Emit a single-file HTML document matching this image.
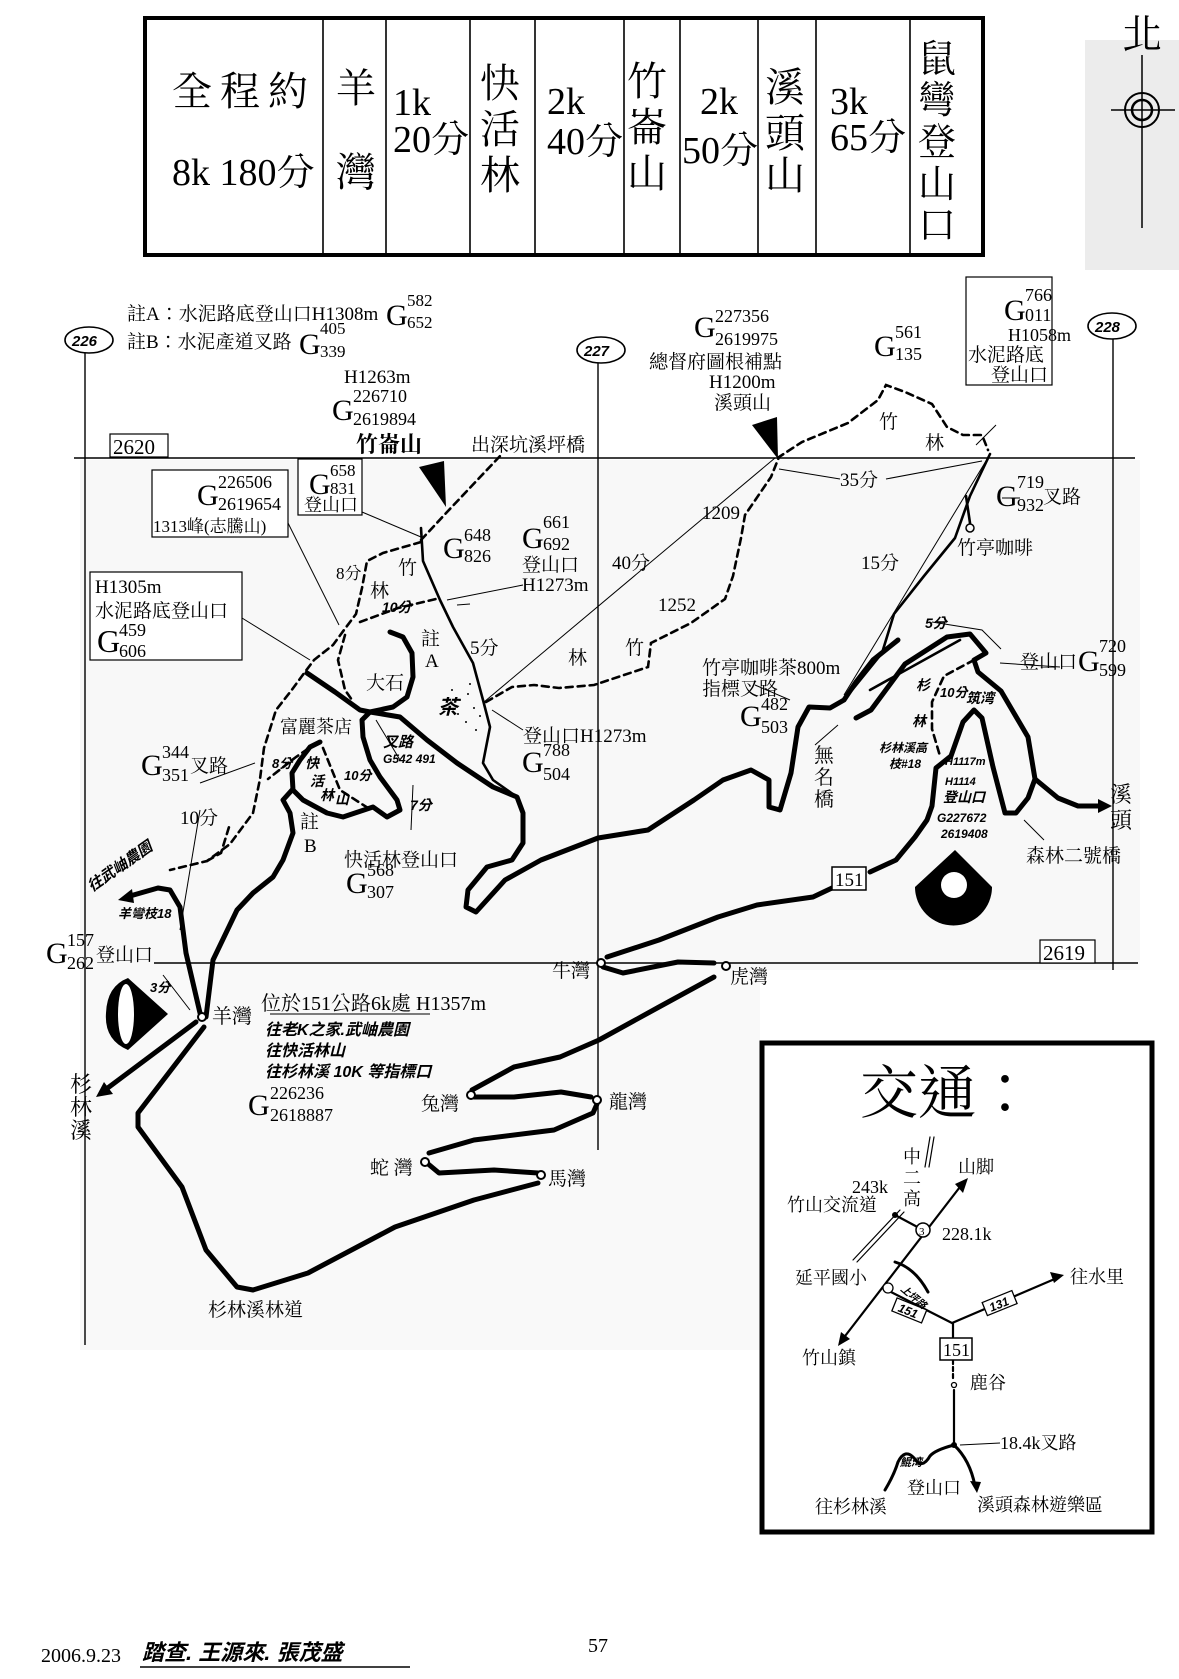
<!DOCTYPE html>
<html><head><meta charset="utf-8">
<style>
html,body{margin:0;padding:0;background:#fff;}
svg{display:block;}
text{font-family:"Liberation Serif","Noto Serif CJK TC","Noto Serif CJK SC",serif;fill:#000;}
.h{font-family:"Liberation Sans","Noto Sans CJK TC",sans-serif;font-weight:bold;font-style:italic;}
.road{fill:none;stroke:#000;stroke-width:5;stroke-linecap:round;stroke-linejoin:round;}
.trail{fill:none;stroke:#000;stroke-width:2.6;stroke-linecap:round;stroke-linejoin:round;}
.dash{fill:none;stroke:#000;stroke-width:2.6;stroke-dasharray:7 5;stroke-linecap:round;}
.thin{fill:none;stroke:#000;stroke-width:1;}
.grid{fill:none;stroke:#000;stroke-width:1.4;}
</style></head>
<body>
<svg width="1179" height="1679" viewBox="0 0 1179 1679" xmlns="http://www.w3.org/2000/svg">
<rect width="1179" height="1679" fill="#fff"/>
<rect x="1085" y="40" width="94" height="230" fill="#ececec"/>
<rect x="80" y="460" width="1060" height="510" fill="#f8f8f8"/>
<rect x="80" y="970" width="680" height="380" fill="#f9f9f9"/>

<!-- ===== TOP TABLE ===== -->
<rect x="145" y="18" width="838" height="237" fill="#fff" stroke="#000" stroke-width="4"/>
<g stroke="#000" stroke-width="1.6">
<line x1="323" y1="18" x2="323" y2="255"/><line x1="386" y1="18" x2="386" y2="255"/>
<line x1="470" y1="18" x2="470" y2="255"/><line x1="535" y1="18" x2="535" y2="255"/>
<line x1="624" y1="18" x2="624" y2="255"/><line x1="680" y1="18" x2="680" y2="255"/>
<line x1="758" y1="18" x2="758" y2="255"/><line x1="816" y1="18" x2="816" y2="255"/>
<line x1="910" y1="18" x2="910" y2="255"/>
</g>
<g font-size="40">
<text x="172" y="105" letter-spacing="8">全程約</text>
<text x="172" y="185" font-size="38">8k 180分</text>
<text x="336" y="102">羊</text><text x="336" y="186">灣</text>
<text x="393" y="115" font-size="38">1k</text><text x="393" y="152" font-size="38">20分</text>
<text x="480" y="97">快</text><text x="480" y="143">活</text><text x="480" y="189">林</text>
<text x="547" y="114" font-size="38">2k</text><text x="547" y="154" font-size="38">40分</text>
<text x="627" y="95">竹</text><text x="627" y="141">崙</text><text x="627" y="187">山</text>
<text x="700" y="114" font-size="38">2k</text><text x="682" y="163" font-size="38">50分</text>
<text x="765" y="101">溪</text><text x="765" y="147">頭</text><text x="765" y="189">山</text>
<text x="830" y="114" font-size="38">3k</text><text x="830" y="150" font-size="38">65分</text>
<text x="918" y="72" font-size="38">鼠</text><text x="918" y="113" font-size="38">彎</text>
<text x="918" y="155" font-size="38">登</text><text x="918" y="197" font-size="38">山</text><text x="918" y="238" font-size="38">口</text>
</g>

<!-- compass -->
<text x="1122" y="48" font-size="40">北</text>
<line x1="1142" y1="55" x2="1142" y2="228" stroke="#000" stroke-width="1.5"/>
<line x1="1111" y1="110" x2="1175" y2="110" stroke="#000" stroke-width="1.5"/>
<circle cx="1142" cy="110" r="17" fill="none" stroke="#000" stroke-width="2"/>
<circle cx="1142" cy="110" r="10" fill="none" stroke="#000" stroke-width="2.5"/>

<!-- ===== GRID ===== -->
<ellipse cx="89" cy="340" rx="24" ry="13" fill="none" stroke="#000" stroke-width="1.6"/>
<text x="72" y="346" font-size="15" class="h">226</text>
<ellipse cx="601" cy="350" rx="24" ry="13" fill="none" stroke="#000" stroke-width="1.6"/>
<text x="584" y="356" font-size="15" class="h">227</text>
<ellipse cx="1112" cy="326" rx="24" ry="13" fill="none" stroke="#000" stroke-width="1.6"/>
<text x="1095" y="332" font-size="15" class="h">228</text>
<line class="grid" x1="85" y1="353" x2="85" y2="1345"/>
<line class="grid" x1="598" y1="363" x2="598" y2="1150"/>
<line class="grid" x1="1113" y1="339" x2="1113" y2="970"/>
<line class="grid" x1="74" y1="458" x2="1135" y2="458"/>
<line class="grid" x1="154" y1="963" x2="1138" y2="963"/>
<rect x="110" y="434" width="58" height="23" fill="#fff" stroke="#000" stroke-width="1.2"/>
<text x="113" y="454" font-size="21">2620</text>
<rect x="1040" y="940" width="55" height="23" fill="#fff" stroke="#000" stroke-width="1.2"/>
<text x="1043" y="960" font-size="21">2619</text>

<!-- notes -->
<g font-size="19">
<text x="127" y="320">註A：水泥路底登山口H1308m</text>
<text x="386" y="325" font-size="30">G</text><text x="407" y="306" font-size="17">582</text><text x="407" y="328" font-size="17">652</text>
<text x="127" y="348">註B：水泥產道叉路</text>
<text x="299" y="354" font-size="30">G</text><text x="320" y="334" font-size="17">405</text><text x="320" y="357" font-size="17">339</text>
</g>

<!-- thin guide lines -->
<polyline class="thin" points="775,458 484,702"/>
<polyline class="thin" points="986,461 844,695"/>
<polyline class="thin" points="779,469 840,479"/>
<polyline class="thin" points="886,479 982,461"/>
<polyline class="thin" points="362,512 421,537"/>
<polyline class="thin" points="288,523 339,625"/>
<polyline class="thin" points="242,618 310,660"/>
<polyline class="thin" points="470,604 457,605"/>
<polyline class="thin" points="523,585 447,600"/>
<polyline class="thin" points="523,730 492,710"/>
<polyline class="thin" points="200,783 255,763"/>
<polyline class="thin" points="180,930 200,810"/>
<polyline class="thin" points="1060,667 1000,663"/>
<polyline class="thin" points="815,745 838,725"/>
<polyline class="thin" points="1044,840 1024,820"/>
<polyline class="thin" points="755,685 790,700"/>
<polyline class="thin" points="976,445 996,425"/>
<polyline class="thin" points="1020,498 1002,498"/>
<polyline class="thin" points="163,975 190,1010"/>
<polyline class="thin" points="376,720 400,760"/>
<polyline class="thin" points="413,785 411,830"/>

<!-- dashed trails -->
<polyline class="dash" points="421,540 448,511 501,455"/>
<polyline class="dash" points="421,542 383,553 367,561 362,588 356,614 344,630 333,645 314,660 302,676 291,691 276,710 264,748 260,779 253,813 230,844 207,861 170,870"/>
<polyline class="dash" points="207,861 221,853 229,827"/>
<polyline class="dash" points="318,742 296,757 268,779"/>
<polyline class="dash" points="360,622 398,608 436,599"/>
<polyline class="dash" points="323,748 340,790 368,808"/>
<polyline class="dash" points="345,635 338,660 345,690 352,700"/>
<polyline class="dash" points="486,702 512,687 534,685 559,688 594,685 648,667 651,643 691,623 725,599 733,576 741,538 745,515 771,477 779,457 802,442 848,423 878,400 886,385 905,392 932,404 947,427 963,435 982,435 988,450"/>
<polyline class="dash" points="974,660 944,676 932,702 932,729 940,756"/>
<!-- solid trails -->
<polyline class="trail" points="421,528 423,561 440,600 453,627 473,663 483,700 490,727 483,763 493,780 517,797"/>
<polyline class="trail" points="990,454 970,496 955,538 924,576 894,614 882,653 848,695 840,703"/>
<polyline class="trail" points="966,496 970,523"/>
<circle cx="970" cy="528" r="4" fill="none" stroke="#000" stroke-width="1.5"/>
<polyline class="thin" points="932,622 982,630 1001,649"/>
<polyline class="trail" points="960,640 870,690"/>
<!-- roads -->
<polyline class="road" points="307,673 335,692 360,710 370,712"/>
<polyline class="road" points="390,632 403,637 412,653 413,677 407,697 393,707 370,712 362,720 363,737 370,760 380,777 397,800 400,810 387,817 373,807 343,817 327,813 303,800 293,790 292,773 300,760 310,747 320,742"/>
<polyline class="road" points="370,712 400,717 427,740 457,763 493,787 517,797 523,813 523,843 512,860 487,867 468,890 466,907 476,912 505,880 541,860 598,838 648,830 694,800 723,780 751,770 769,780 769,807 780,810 791,773 798,727 809,707 830,708 844,700 856,682 873,660 898,640"/>
<polyline class="road" points="856,718 871,710 905,664 947,637 970,634 986,653 974,660 978,672 1001,691 1028,737 1035,779 1028,798 1016,813 1005,813 993,767 982,718 974,710 963,722 951,756 936,768 932,806 927,820 915,837 896,860 870,872"/>
<polyline class="road" points="1035,779 1058,798 1078,806 1104,806"/>
<polygon points="1112,806 1098,799 1098,813" fill="#000"/>
<polyline class="road" points="206,1017 213,960 237,910 253,893 273,877 283,860 293,833 290,813 283,800 292,790"/>
<polyline class="road" points="200,1013 186,953 180,907 170,890 158,888 130,896"/>
<polygon points="118,900 132,889 134,903" fill="#000"/>
<polyline class="road" points="196,1022 105,1090"/>
<polygon points="96,1097 104,1082 113,1094" fill="#000"/>
<polyline class="road" points="204,1027 138,1113 138,1127 182,1187 206,1250 237,1287 253,1290 308,1273 395,1227 474,1200 538,1183"/>
<polyline class="road" points="538,1173 494,1170 439,1173 427,1163"/>
<polyline class="road" points="429,1153 474,1140 554,1130 593,1113 597,1104"/>
<polyline class="road" points="591,1097 561,1092 514,1097 474,1097"/>
<polyline class="road" points="472,1090 514,1067 560,1057 599,1040 659,1007 714,977"/>
<polyline class="road" points="714,963 678,962 623,973 603,967"/>
<polyline class="road" points="607,957 659,940 718,917 757,905 813,897 832,888"/>
<g fill="#fff" stroke="#000" stroke-width="2">
<circle cx="202" cy="1017" r="4"/><circle cx="471" cy="1095" r="4"/><circle cx="597" cy="1100" r="4"/>
<circle cx="425" cy="1162" r="4"/><circle cx="541" cy="1175" r="4"/><circle cx="601" cy="963" r="4"/>
<circle cx="726" cy="966" r="4"/>
</g>
<rect x="832" y="867" width="34" height="23" fill="#fff" stroke="#000" stroke-width="1.5"/>
<text x="835" y="886" font-size="19">151</text>

<!-- black markers -->
<polygon points="419,467 444,461 446,507" fill="#000"/>
<polygon points="752,425 777,417 778,459" fill="#000"/>
<path d="M955,850 L992,887 A37,37 0 0 1 915,887 Z" fill="#000"/>
<circle cx="954" cy="885" r="13" fill="#fff"/>
<path d="M128,978 L168,1014 L128,1050 Q104,1040 106,1013 Q107,986 128,978 Z" fill="#000"/>
<ellipse cx="126" cy="1014" rx="8" ry="30" fill="#fff"/>
<g fill="#000"><circle cx="452" cy="690" r="1"/><circle cx="460" cy="700" r="1"/><circle cx="468" cy="694" r="1"/><circle cx="474" cy="708" r="1"/><circle cx="458" cy="714" r="1"/><circle cx="466" cy="722" r="1"/><circle cx="476" cy="730" r="1"/><circle cx="470" cy="684" r="1"/><circle cx="480" cy="716" r="1"/></g>

<!-- ===== LABELS ===== -->
<g font-size="19">
<text x="344" y="383">H1263m</text>
<text x="332" y="420" font-size="30">G</text><text x="353" y="402" font-size="18">226710</text><text x="353" y="425" font-size="18">2619894</text>
<text x="356" y="452" font-size="22" font-weight="bold">竹崙山</text>
<text x="471" y="451">出深坑溪坪橋</text>

<rect x="298" y="459" width="64" height="56" fill="#fff" stroke="#000" stroke-width="1.2"/>
<text x="309" y="494" font-size="30">G</text><text x="330" y="476" font-size="17">658</text><text x="330" y="494" font-size="17">831</text>
<text x="304" y="511" font-size="18">登山口</text>

<rect x="152" y="470" width="136" height="67" fill="#fff" stroke="#000" stroke-width="1.2"/>
<text x="197" y="505" font-size="30">G</text><text x="218" y="488" font-size="18">226506</text><text x="218" y="510" font-size="18">2619654</text>
<text x="153" y="532" font-size="17">1313峰(志騰山)</text>

<rect x="90" y="572" width="152" height="88" fill="#fff" stroke="#000" stroke-width="1.2"/>
<text x="95" y="593">H1305m</text>
<text x="95" y="617">水泥路底登山口</text>
<text x="97" y="652" font-size="32">G</text><text x="119" y="636" font-size="18">459</text><text x="119" y="657" font-size="18">606</text>

<text x="443" y="558" font-size="30">G</text><text x="464" y="541" font-size="18">648</text><text x="464" y="562" font-size="18">826</text>
<text x="522" y="548" font-size="30">G</text><text x="543" y="528" font-size="18">661</text><text x="543" y="550" font-size="18">692</text>
<text x="522" y="571">登山口</text><text x="522" y="591">H1273m</text>

<text x="398" y="574">竹</text><text x="370" y="597">林</text>
<text x="336" y="579" font-size="17">8分</text>
<text x="382" y="612" font-size="14" class="h">10分</text>
<text x="421" y="645">註</text><text x="425" y="667">A</text>
<text x="470" y="654">5分</text>
<text x="568" y="664">林</text><text x="625" y="654">竹</text>
<text x="366" y="689">大石</text>
<text x="438" y="714" class="h" font-size="20">茶</text>
<text x="280" y="733" font-size="18">富麗茶店</text>
<text x="141" y="775" font-size="30">G</text><text x="162" y="758" font-size="18">344</text><text x="162" y="781" font-size="18">351</text>
<text x="190" y="772">叉路</text>
<text x="180" y="824">10分</text>
<text x="300" y="828">註</text><text x="304" y="852">B</text>
<text x="344" y="866">快活林登山口</text>
<text x="346" y="893" font-size="30">G</text><text x="367" y="876" font-size="18">568</text><text x="367" y="898" font-size="18">307</text>
<text x="383" y="747" font-size="15" class="h">叉路</text>
<text x="383" y="763" font-size="12" class="h">G542 491</text>
<text x="410" y="810" font-size="14" class="h">7分</text>
<text x="305" y="768" font-size="14" class="h">快</text><text x="310" y="786" font-size="14" class="h">活</text><text x="320" y="800" font-size="14" class="h">林</text><text x="335" y="804" font-size="14" class="h">山</text>
<text x="344" y="780" font-size="13" class="h">10分</text>
<text x="272" y="768" font-size="13" class="h">8分</text>

<text x="523" y="742">登山口H1273m</text>
<text x="522" y="772" font-size="30">G</text><text x="543" y="756" font-size="18">788</text><text x="543" y="780" font-size="18">504</text>

<text x="694" y="337" font-size="30">G</text><text x="715" y="322" font-size="18">227356</text><text x="715" y="345" font-size="18">2619975</text>
<text x="649" y="368">總督府圖根補點</text>
<text x="709" y="388">H1200m</text>
<text x="714" y="409">溪頭山</text>
<text x="874" y="356" font-size="30">G</text><text x="895" y="338" font-size="18">561</text><text x="895" y="360" font-size="18">135</text>
<rect x="966" y="277" width="86" height="108" fill="#fff" stroke="#000" stroke-width="1.2"/>
<text x="1004" y="320" font-size="30">G</text><text x="1025" y="301" font-size="18">766</text><text x="1025" y="321" font-size="18">011</text>
<text x="1008" y="341" font-size="18">H1058m</text>
<text x="968" y="361">水泥路底</text><text x="991" y="381">登山口</text>
<text x="879" y="428">竹</text><text x="925" y="449">林</text>
<text x="840" y="486">35分</text>
<text x="996" y="506" font-size="30">G</text><text x="1017" y="488" font-size="18">719</text><text x="1017" y="511" font-size="18">932</text>
<text x="1043" y="503">叉路</text>
<text x="957" y="554">竹亭咖啡</text>
<text x="702" y="519">1209</text>
<text x="612" y="569">40分</text>
<text x="861" y="569">15分</text>
<text x="658" y="611">1252</text>
<text x="702" y="674">竹亭咖啡茶800m</text>
<text x="702" y="695">指標叉路</text>
<text x="740" y="726" font-size="30">G</text><text x="761" y="710" font-size="18">482</text><text x="761" y="733" font-size="18">503</text>
<text x="814" y="762" font-size="20">無</text><text x="814" y="784" font-size="20">名</text><text x="814" y="806" font-size="20">橋</text>
<text x="1020" y="668">登山口</text>
<text x="1078" y="671" font-size="30">G</text><text x="1099" y="652" font-size="18">720</text><text x="1099" y="676" font-size="18">599</text>
<text x="1110" y="802" font-size="22">溪</text><text x="1110" y="828" font-size="22">頭</text>
<text x="1026" y="862">森林二號橋</text>
<text x="925" y="628" font-size="14" class="h">5分</text>
<text x="916" y="690" font-size="14" class="h">杉</text>
<text x="940" y="697" font-size="13" class="h">10分</text>
<text x="912" y="726" font-size="14" class="h">林</text>
<text x="966" y="703" font-size="14" class="h">筑湾</text>
<text x="879" y="752" font-size="12" class="h">杉林溪高</text>
<text x="889" y="768" font-size="12" class="h">枝#18</text>
<text x="945" y="765" font-size="11" class="h">H1117m</text>
<text x="945" y="785" font-size="11" class="h">H1114</text>
<text x="943" y="802" font-size="14" class="h">登山口</text>
<text x="937" y="822" font-size="12" class="h">G227672</text>
<text x="941" y="838" font-size="12" class="h">2619408</text>

<text x="46" y="963" font-size="30">G</text><text x="67" y="946" font-size="18">157</text><text x="67" y="969" font-size="18">262</text>
<text x="96" y="961">登山口</text>
<text x="150" y="992" font-size="13" class="h">3分</text>
<text x="92" y="892" font-size="15" class="h" transform="rotate(-35 92 892)">往武岫農園</text>
<text x="118" y="918" font-size="13" class="h">羊彎枝18</text>
<text x="212" y="1023" font-size="20">羊灣</text>
<text x="261" y="1010" font-size="20">位於151公路6k處 H1357m</text>
<line x1="270" y1="1014" x2="430" y2="1014" stroke="#000" stroke-width="1"/>
<text x="265" y="1035" font-size="16" class="h">往老K之家.武岫農園</text>
<text x="265" y="1056" font-size="16" class="h">往快活林山</text>
<text x="265" y="1077" font-size="16" class="h">往杉林溪 10K 等指標口</text>
<text x="248" y="1115" font-size="30">G</text><text x="270" y="1099" font-size="18">226236</text><text x="270" y="1121" font-size="18">2618887</text>
<text x="421" y="1110">兔灣</text>
<text x="609" y="1108">龍灣</text>
<text x="370" y="1174">蛇 灣</text>
<text x="548" y="1185">馬灣</text>
<text x="552" y="977">牛灣</text>
<text x="730" y="983">虎灣</text>
<text x="208" y="1316">杉林溪林道</text>
<text x="70" y="1092" font-size="22">杉</text><text x="70" y="1115" font-size="22">林</text><text x="70" y="1138" font-size="22">溪</text>
</g>

<!-- ===== 交通 BOX ===== -->
<rect x="762" y="1043" width="390" height="489" fill="#fff" stroke="#000" stroke-width="5"/>
<text x="860" y="1113" font-size="58">交通：</text>
<g font-size="18">
<text x="903" y="1163">中</text><text x="903" y="1184">二</text><text x="903" y="1205">高</text>
<text x="958" y="1173">山脚</text>
<text x="852" y="1193">243k</text>
<text x="787" y="1211">竹山交流道</text>
<text x="942" y="1240">228.1k</text>
<text x="795" y="1284">延平國小</text>
<text x="1070" y="1283">往水里</text>
<text x="802" y="1364">竹山鎮</text>
<text x="970" y="1389">鹿谷</text>
<text x="1000" y="1449">18.4k叉路</text>
<text x="907" y="1494">登山口</text>
<text x="815" y="1513">往杉林溪</text>
<text x="977" y="1511">溪頭森林遊樂區</text>
</g>
<g fill="none" stroke="#000" stroke-width="2.2" stroke-linecap="round">
<line x1="963" y1="1183" x2="842" y2="1340"/>
<line x1="895" y1="1215" x2="923" y2="1230"/>
<line x1="853" y1="1260" x2="900" y2="1210" stroke-width="1.2"/>
<line x1="857" y1="1262" x2="904" y2="1212" stroke-width="1.2"/>
<line x1="930" y1="1137" x2="925" y2="1167" stroke-width="1.2"/>
<line x1="934" y1="1137" x2="929" y2="1167" stroke-width="1.2"/>
<polyline points="883,1288 952,1323 1057,1278"/>
<line x1="953" y1="1323" x2="953" y2="1337"/>
<line x1="953" y1="1360" x2="953" y2="1380" stroke-dasharray="4 3"/>
<line x1="954" y1="1390" x2="954" y2="1445"/>
<path d="M954,1445 Q970,1460 975,1486" stroke-width="3"/>
<path d="M954,1445 Q935,1450 930,1456 Q922,1470 914,1458 Q905,1448 898,1462 Q894,1475 885,1490" stroke-width="3"/>
<path d="M895,1262 Q915,1268 928,1292" stroke-width="3"/>
</g>
<polygon points="968,1178 955,1184 963,1193" fill="#000"/>
<polygon points="838,1346 841,1332 850,1339" fill="#000"/>
<polygon points="1064,1275 1050,1272 1054,1283" fill="#000"/>
<polygon points="977,1493 970,1481 981,1482" fill="#000"/>
<circle cx="923" cy="1230" r="7" fill="#fff" stroke="#000" stroke-width="1.5"/>
<text x="919" y="1235" font-size="11">3</text>
<circle cx="888" cy="1288" r="5" fill="#fff" stroke="#000" stroke-width="1.3"/>
<circle cx="895" cy="1215" r="3" fill="#000"/>
<circle cx="954" cy="1385" r="2.5" fill="none" stroke="#000" stroke-width="1.3"/>
<circle cx="954" cy="1445" r="3" fill="#000"/>
<rect x="940" y="1338" width="32" height="22" fill="#fff" stroke="#000" stroke-width="1.5"/>
<text x="943" y="1356" font-size="18">151</text>
<g transform="rotate(22 908 1311)"><rect x="893" y="1303" width="32" height="14" fill="#fff" stroke="#000" stroke-width="1.3"/><text x="898" y="1315" font-size="12" class="h">151</text></g>
<g transform="rotate(-22 1000 1304)"><rect x="984" y="1296" width="32" height="14" fill="#fff" stroke="#000" stroke-width="1.3"/><text x="989" y="1308" font-size="12" class="h">131</text></g>
<text x="900" y="1290" font-size="10" class="h" transform="rotate(40 900 1290)">上坪路</text>
<text x="900" y="1466" font-size="11" class="h">鯤湾</text>
<line x1="1000" y1="1443" x2="960" y2="1445" stroke="#000" stroke-width="1"/>

<!-- footer -->
<text x="41" y="1662" font-size="20">2006.9.23</text>
<text x="142" y="1660" font-size="22" class="h">踏查. 王源來. 張茂盛</text>
<line x1="140" y1="1667" x2="410" y2="1667" stroke="#000" stroke-width="1.5"/>
<text x="588" y="1652" font-size="20">57</text>
</svg>
</body></html>
